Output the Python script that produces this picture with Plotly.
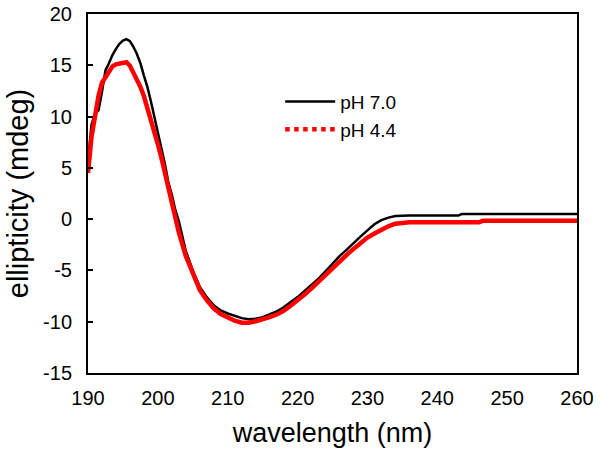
import plotly.graph_objects as go

wavelength = [190, 190.5, 191, 191.5, 192, 192.5, 193, 193.5, 194, 194.5, 195, 195.5, 196, 196.5,
              197, 197.5, 198, 198.5, 199, 199.5, 200, 200.5, 201, 201.5, 202, 202.5, 203, 204,
              205, 206, 207, 208, 209, 210, 211, 212, 213, 214, 215, 216, 217, 218, 219, 220,
              221, 222, 223, 224, 225, 226, 227, 228, 229, 230, 231, 232, 233, 234, 235, 236,
              238, 240, 242, 243, 243.5, 244, 246, 246.5, 247, 248, 250, 252, 254, 256, 258, 260]

ph70 = [5.6, 9.2, 10.3, 10.6, 12.4, 14.5, 15.2, 16.0, 16.6, 17.1, 17.4, 17.55, 17.35, 16.8,
        16.1, 15.2, 14.0, 12.9, 11.5, 10.0, 8.5, 6.8, 5.4, 3.6, 2.4, 0.9, -0.2, -3.1,
        -5.0, -6.6, -7.6, -8.4, -8.9, -9.2, -9.45, -9.65, -9.75, -9.7, -9.55, -9.3, -9.0, -8.6, -8.1, -7.6,
        -7.0, -6.4, -5.8, -5.1, -4.3, -3.6, -3.0, -2.3, -1.7, -1.1, -0.5, -0.1, 0.15, 0.3, 0.35, 0.35,
        0.35, 0.35, 0.35, 0.35, 0.5, 0.5, 0.5, 0.5, 0.5, 0.5, 0.5, 0.5, 0.5, 0.5, 0.5, 0.5]

ph44 = [4.5, 8.0, 10.0, 12.0, 13.3, 13.9, 14.5, 14.9, 15.1, 15.2, 15.3, 15.3, 14.95, 14.3,
        13.6, 12.9, 12.0, 10.9, 9.7, 8.4, 7.3, 6.0, 4.6, 3.0, 1.5, 0.0, -1.3, -3.6,
        -5.4, -6.9, -7.9, -8.7, -9.25, -9.6, -9.9, -10.1, -10.1, -9.95, -9.8, -9.55, -9.3, -8.95, -8.45, -7.95,
        -7.35, -6.75, -6.1, -5.4, -4.7, -4.0, -3.5, -2.9, -2.3, -1.8, -1.4, -1.0, -0.7, -0.45, -0.35, -0.3,
        -0.3, -0.3, -0.3, -0.3, -0.3, -0.3, -0.3, -0.15, -0.15, -0.15, -0.15, -0.15, -0.15, -0.15, -0.15, -0.15]

x_ticks = [190, 200, 210, 220, 230, 240, 250, 260]
y_ticks = [-15, -10, -5, 0, 5, 10, 15, 20]

FONT = "Liberation Sans, Arial, sans-serif"

fig = go.Figure()
fig.add_trace(go.Scatter(x=wavelength, y=ph70, mode="lines", name="pH 7.0",
                         line=dict(color="black", width=2.5), showlegend=True))
fig.add_trace(go.Scatter(x=wavelength, y=ph44, mode="lines", name="pH 4.4",
                         line=dict(color="#ff0000", width=4.5), showlegend=False))
fig.add_trace(go.Scatter(x=[None], y=[None], mode="lines", name="pH 4.4",
                         line=dict(color="#ff0000", width=4.5, dash="dot"), showlegend=True))

fig.update_layout(
    width=602, height=457,
    margin=dict(l=87.5, r=24.5, t=14, b=84, autoexpand=False),
    paper_bgcolor="white", plot_bgcolor="white",
    font=dict(family=FONT, color="black", size=20),
    legend=dict(x=0.393, y=0.717, xanchor="left", yanchor="middle",
                bgcolor="rgba(0,0,0,0)", font=dict(size=19, family=FONT),
                itemwidth=50, tracegroupgap=0),
    xaxis=dict(range=[190, 260], tickvals=x_ticks, ticktext=[str(v) for v in x_ticks],
               showgrid=False, zeroline=False, showline=True, linecolor="black", linewidth=2,
               mirror=True, ticks="", ticklabelstandoff=6, automargin=False,
               ticklabeloverflow="allow",
               title=dict(text="wavelength (nm)", font=dict(size=27, family=FONT), standoff=15)),
    yaxis=dict(range=[-15, 20], tickvals=y_ticks, ticktext=[str(v) for v in y_ticks],
               showgrid=False, zeroline=False, showline=True, linecolor="black", linewidth=2,
               mirror=True, ticks="inside", ticklen=5, tickwidth=2, tickcolor="black",
               ticklabelstandoff=10, automargin=False, ticklabeloverflow="allow",
               title=dict(text="ellipticity (mdeg)", font=dict(size=29, family=FONT), standoff=6)),
)

# remove the page's default 8px body margin so the figure fills the window exactly
fig.write_html("out.html", config={"displayModeBar": False},
               post_script="document.body.style.margin='0';")
